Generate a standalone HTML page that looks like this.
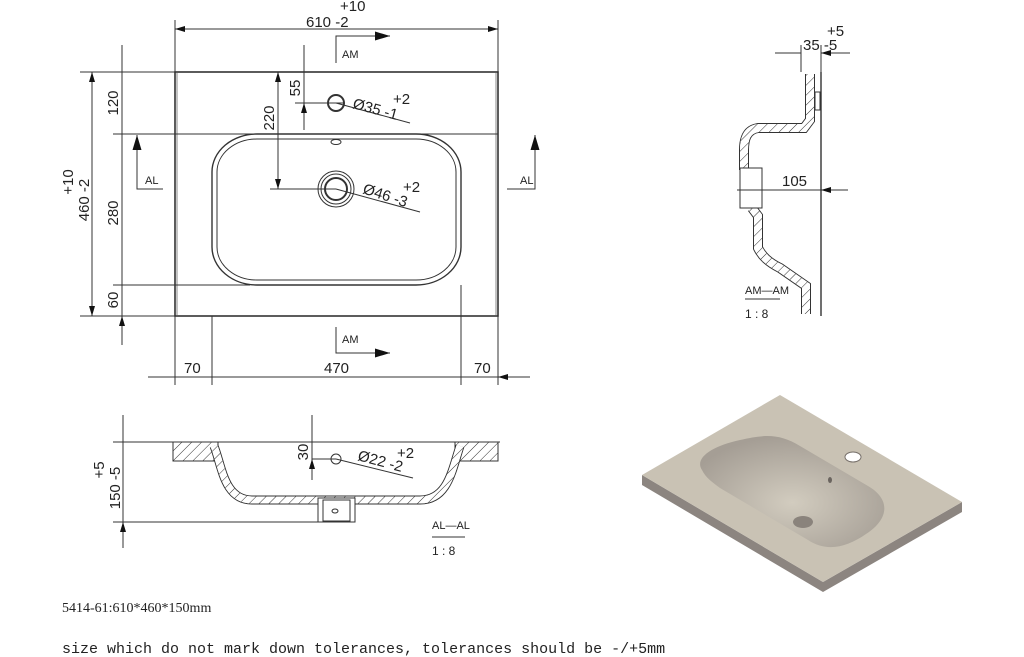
<!DOCTYPE html>
<html><head><meta charset="utf-8"><style>
html,body{margin:0;padding:0;background:#fff;}
svg{display:block;}
text{font-family:"Liberation Sans",sans-serif;fill:#222;}
.m{font-family:"Liberation Mono",monospace;}
</style></head><body>
<svg width="1024" height="657" viewBox="0 0 1024 657" xmlns="http://www.w3.org/2000/svg">
<defs>
<pattern id="h" width="7" height="7" patternUnits="userSpaceOnUse" patternTransform="rotate(45)">
<rect width="7" height="7" fill="#fff"/><line x1="0" y1="0" x2="0" y2="7" stroke="#333" stroke-width="1"/></pattern>
<marker id="a" viewBox="0 0 10 6" refX="10" refY="3" markerWidth="15" markerHeight="6" orient="auto-start-reverse" markerUnits="userSpaceOnUse"><path d="M0,0L10,3L0,6z" fill="#111"/></marker>
<marker id="b" viewBox="0 0 10 6" refX="10" refY="3" markerWidth="22" markerHeight="9" orient="auto" markerUnits="userSpaceOnUse"><path d="M0,0L10,3L0,6z" fill="#111"/></marker>
<radialGradient id="bw" cx="0.5" cy="0.6" r="0.6"><stop offset="0" stop-color="#d2ccbf"/><stop offset="1" stop-color="#a59e95"/></radialGradient>
</defs>
<g stroke="#333" stroke-width="1" fill="none">
<rect x="175" y="72" width="323" height="244" stroke-width="1.6"/>
<line x1="177" y1="73" x2="177" y2="315" stroke="#888"/>
<line x1="496" y1="73" x2="496" y2="315" stroke="#888"/>
<rect x="212" y="134" width="249" height="151" rx="45" ry="38" stroke-width="1.4"/>
<rect x="217" y="139" width="239" height="141" rx="40" ry="33"/>
<ellipse cx="336" cy="142" rx="5" ry="2.5"/>
<circle cx="336" cy="103" r="8" stroke-width="2"/>
<circle cx="336" cy="189" r="18"/><circle cx="336" cy="189" r="15"/><circle cx="336" cy="189" r="11" stroke-width="2"/>
<line x1="175" y1="20" x2="175" y2="385"/><line x1="498" y1="20" x2="498" y2="385"/>
<line x1="175" y1="29" x2="498" y2="29" marker-start="url(#a)" marker-end="url(#a)"/>
<line x1="80" y1="72" x2="175" y2="72"/><line x1="80" y1="316" x2="175" y2="316"/>
<line x1="92" y1="72" x2="92" y2="316" marker-start="url(#a)" marker-end="url(#a)"/>
<line x1="113" y1="134" x2="498" y2="134"/><line x1="113" y1="285" x2="250" y2="285"/>
<line x1="122" y1="45" x2="122" y2="345"/>
<path d="M122,55L122,72M122,116L122,134M122,152L122,134M122,267L122,285M122,303L122,285M122,334L122,316" marker-end="url(#a)"/>
<line x1="212" y1="316" x2="212" y2="385"/><line x1="461" y1="285" x2="461" y2="385"/>
<line x1="278" y1="72" x2="278" y2="189" marker-start="url(#a)" marker-end="url(#a)"/>
<line x1="270" y1="189" x2="336" y2="189"/>
<line x1="304" y1="45" x2="304" y2="130"/>
<path d="M304,60L304,103M304,128L304,103" marker-end="url(#a)"/>
<line x1="295" y1="103" x2="345" y2="103"/>
<line x1="336" y1="103" x2="410" y2="123"/><line x1="336" y1="189" x2="420" y2="212"/>
<path d="M336,63V36H390" marker-end="url(#b)"/>
<path d="M336,327V353H390" marker-end="url(#b)"/>
<path d="M163,189H137V135" marker-end="url(#b)"/>
<path d="M507,189H535V135" marker-end="url(#b)"/>
<line x1="148" y1="377" x2="530" y2="377"/>
<path d="M155,377H175M230,377H212M443,377H461M520,377H498" marker-end="url(#a)"/>
</g>
<g font-size="15">
<text x="340" y="11">+10</text><text x="306" y="27">610  -2</text>
<text x="342" y="58" font-size="11">AM</text>
<text x="342" y="343" font-size="11">AM</text>
<text x="145" y="184" font-size="11">AL</text><text x="520" y="184" font-size="11">AL</text>
<text x="184" y="373">70</text><text x="324" y="373">470</text><text x="474" y="373">70</text>
<text transform="translate(73,182) rotate(-90)" text-anchor="middle">+10</text>
<text transform="translate(89,200) rotate(-90)" text-anchor="middle">460  -2</text>
<text transform="translate(118,103) rotate(-90)" text-anchor="middle">120</text>
<text transform="translate(118,213) rotate(-90)" text-anchor="middle">280</text>
<text transform="translate(118,300) rotate(-90)" text-anchor="middle">60</text>
<text transform="translate(274,118) rotate(-90)" text-anchor="middle">220</text>
<text transform="translate(300,88) rotate(-90)" text-anchor="middle">55</text>
<text x="393" y="104">+2</text><text transform="translate(352,108) rotate(15)">Ø35  -1</text>
<text x="403" y="192">+2</text><text transform="translate(362,193) rotate(18)">Ø46  -3</text>
</g>
<g fill="none">
<line x1="821" y1="72" x2="821" y2="316" stroke="#333" stroke-width="1.4"/>
<path id="sp" d="M810,74V120L804,128H758C746,130 744,140 744,150V170M752,208L758,216V248C762,256 768,262 780,268L806,286V314"/>
<use href="#sp" stroke="#333" stroke-width="10"/><use href="#sp" stroke="#fff" stroke-width="8"/><use href="#sp" stroke="url(#h)" stroke-width="8"/>
<rect x="740" y="168" width="22" height="40" fill="#fff" stroke="#333"/>
<rect x="815" y="92" width="5" height="18" stroke="#333"/>
<g stroke="#333" stroke-width="1">
<line x1="801" y1="45" x2="801" y2="72"/><line x1="821" y1="45" x2="821" y2="72"/>
<path d="M775,53H801M850,53H821" marker-end="url(#a)"/>
<line x1="737" y1="190" x2="848" y2="190"/>
<path d="M755,190H740M848,190H821" marker-end="url(#a)"/>
<line x1="745" y1="299" x2="780" y2="299"/>
</g></g>
<text x="827" y="36" font-size="15">+5</text><text x="803" y="50" font-size="15">35  -5</text>
<text x="782" y="186" font-size="15">105</text>
<text x="745" y="294" font-size="11">AM—AM</text><text x="745" y="318" font-size="12">1 : 8</text>
<g fill="none" stroke="#333">
<line x1="113" y1="442" x2="500" y2="442"/><line x1="113" y1="522" x2="355" y2="522"/>
<line x1="123" y1="415" x2="123" y2="548"/>
<path d="M123,425V442M123,540V522" marker-end="url(#a)"/>
<rect x="173" y="442" width="45" height="19" fill="url(#h)"/>
<rect x="455" y="442" width="43" height="19" fill="url(#h)"/>
<path id="bp" d="M214,446C222,466 224,500 252,500L420,500C448,500 452,470 460,446"/>
<use href="#bp" stroke="#333" stroke-width="9"/><use href="#bp" stroke="#fff" stroke-width="7"/><use href="#bp" stroke="url(#h)" stroke-width="7"/>
<rect x="318" y="498" width="37" height="24" fill="#fff"/>
<rect x="323" y="500" width="27" height="21"/>
<ellipse cx="335" cy="511" rx="3" ry="2"/>
<line x1="312" y1="415" x2="312" y2="480"/>
<path d="M312,425V442M312,476V459" marker-end="url(#a)"/>
<line x1="312" y1="459" x2="336" y2="459"/>
<circle cx="336" cy="459" r="5"/>
<line x1="336" y1="459" x2="413" y2="478"/>
<line x1="432" y1="537" x2="465" y2="537"/>
</g>
<g font-size="15">
<text transform="translate(104,470) rotate(-90)" text-anchor="middle">+5</text>
<text transform="translate(120,488) rotate(-90)" text-anchor="middle">150  -5</text>
<text transform="translate(308,452) rotate(-90)" text-anchor="middle">30</text>
<text x="397" y="458">+2</text><text transform="translate(357,460) rotate(15)">Ø22  -2</text>
</g>
<text x="432" y="529" font-size="11">AL—AL</text><text x="432" y="555" font-size="12">1 : 8</text>
<polygon points="642,475 642,485 823,592 962,512 962,502 823,582" fill="#8c8580"/>
<polygon points="642,475 780,395 962,502 823,582" fill="#c9c2b4"/>
<path d="M702,470C694,458 712,446 740,440C766,434 780,434 800,446L868,486C892,500 888,520 866,534C846,548 826,552 808,540L720,488C712,482 706,478 702,470Z" fill="url(#bw)"/>
<ellipse cx="853" cy="457" rx="8" ry="5" fill="#fff" stroke="#77706a"/>
<ellipse cx="803" cy="522" rx="10" ry="6" fill="#8a837c"/>
<ellipse cx="830" cy="480" rx="2" ry="3" fill="#6a645f"/>
<text x="62" y="612" font-size="14" style="font-family:'Liberation Serif',serif">5414-61:610*460*150mm</text>
<text x="62" y="653" font-size="15" class="m">size which do not mark down tolerances, tolerances should be -/+5mm</text>
</svg>
</body></html>
